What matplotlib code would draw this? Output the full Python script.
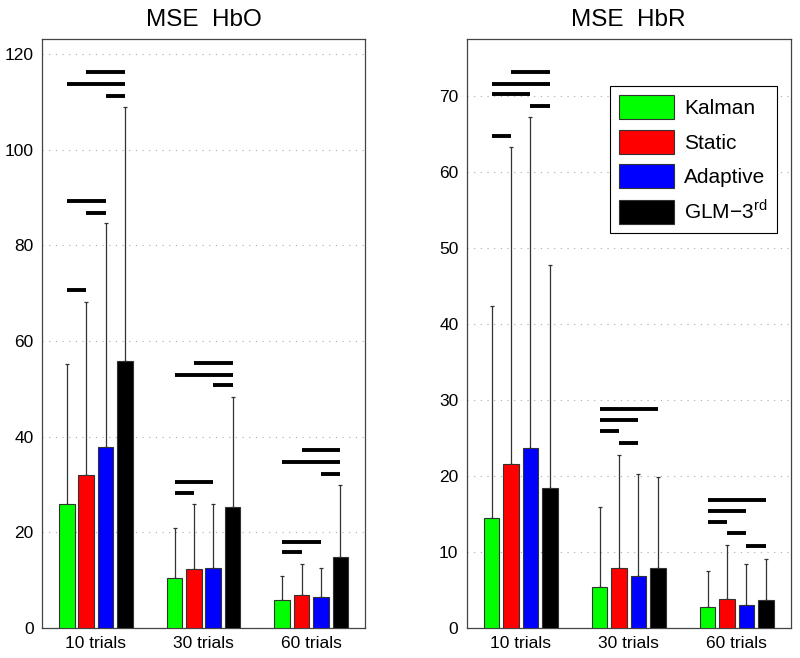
import numpy as np
import matplotlib
matplotlib.use("Agg")
import matplotlib.pyplot as plt
from matplotlib.patches import Patch

plt.rcParams['font.family'] = ['Liberation Sans', 'DejaVu Sans']
plt.rcParams['mathtext.fontset'] = 'custom'
plt.rcParams['mathtext.rm'] = 'Liberation Sans'

# Données
groups = ["10 trials", "30 trials", "60 trials"]
methods = ["Kalman", "Static", "Adaptive", "GLM$-$3$^{\\rm rd}$"]
colors = ["#00ff00", "#ff0000", "#0000ff", "#000000"]

# MSE HbO : moyennes et écarts (vers le haut), une liste par méthode
hbo_mean = [[25.9, 10.5, 5.7], [32.0, 12.2, 6.8], [37.8, 12.6, 6.5], [55.9, 25.2, 14.7]]
hbo_err = [[29.2, 10.4, 5.1], [36.1, 13.7, 6.5], [46.8, 13.3, 6.1], [53.1, 23.0, 15.2]]

# MSE HbR
hbr_mean = [[14.5, 5.4, 2.7], [21.6, 7.8, 3.8], [23.6, 6.8, 3.0], [18.4, 7.8, 3.7]]
hbr_err = [[27.8, 10.5, 4.8], [41.6, 14.9, 7.1], [43.6, 13.4, 5.4], [29.3, 12.0, 5.3]]

# Lignes de significativité : (groupe, méthode i, méthode j, hauteur)
hbo_sig = [(0, 0, 1, 70.6), (0, 0, 2, 89.3), (0, 1, 2, 86.8), (0, 0, 3, 113.8), (0, 1, 3, 116.3), (0, 2, 3, 111.2),
           (1, 0, 1, 28.1), (1, 0, 2, 30.5), (1, 0, 3, 52.9), (1, 1, 3, 55.4), (1, 2, 3, 50.8),
           (2, 0, 1, 15.8), (2, 0, 2, 18.0), (2, 0, 3, 34.6), (2, 1, 3, 37.1), (2, 2, 3, 32.1)]
hbr_sig = [(0, 0, 1, 64.7), (0, 0, 2, 70.2), (0, 0, 3, 71.6), (0, 1, 3, 73.1), (0, 2, 3, 68.6),
           (1, 0, 1, 25.9), (1, 0, 2, 27.3), (1, 0, 3, 28.8), (1, 1, 2, 24.3),
           (2, 0, 1, 13.9), (2, 0, 2, 15.4), (2, 0, 3, 16.8), (2, 1, 2, 12.5), (2, 2, 3, 10.7)]

offsets = [-0.27, -0.09, 0.09, 0.27]
width = 0.145
x = np.arange(1, len(groups) + 1)

fig = plt.figure(figsize=(8, 6.58), dpi=100)
ax1 = fig.add_axes([0.0525, 0.046, 0.404, 0.894])
ax2 = fig.add_axes([0.5834, 0.046, 0.405, 0.894])


def draw(ax, means, errs, sig, title, ymax, yticks):
    for k in range(len(methods)):
        xs = x + offsets[k]
        ax.errorbar(xs, means[k], yerr=[np.zeros(len(groups)), errs[k]], fmt='none',
                    ecolor='#333333', elinewidth=0.9, capsize=1.5, capthick=0.9, zorder=2)
        ax.bar(xs, means[k], width, color=colors[k], edgecolor='#333333', linewidth=0.8,
               label=methods[k], zorder=3)
    for g, i, j, h in sig:
        ax.plot([x[g] + offsets[i], x[g] + offsets[j]], [h, h], color='black',
                linewidth=2.8, solid_capstyle='butt', zorder=4)
    ax.set_xlim(0.5, 3.5)
    ax.set_ylim(0, ymax)
    ax.set_xticks(x)
    ax.set_xticklabels(groups)
    ax.set_yticks(yticks)
    ax.yaxis.grid(True, linestyle=(0, (1, 5)), color='#aaaaaa', linewidth=0.8)
    ax.set_axisbelow(True)
    ax.tick_params(direction='in', length=0, labelsize=12.5, pad=6)
    for s in ax.spines.values():
        s.set_color('#444444')
        s.set_linewidth(0.9)
    ax.set_title(title, fontsize=17.5, pad=10)


draw(ax1, hbo_mean, hbo_err, hbo_sig, "MSE  HbO", 123.1, np.arange(0, 121, 20))
draw(ax2, hbr_mean, hbr_err, hbr_sig, "MSE  HbR", 77.4, np.arange(0, 71, 10))

handles = [Patch(facecolor=c, edgecolor='#333333', linewidth=0.8) for c in colors]
leg = ax2.legend(handles, methods, loc='upper right', bbox_to_anchor=(0.957, 0.921),
                 borderaxespad=0, fontsize=15, handlelength=2.6, handleheight=1.4,
                 labelspacing=0.5, handletextpad=0.5, borderpad=0.45,
                 fancybox=False, framealpha=1, edgecolor='black')
leg.get_frame().set_linewidth(0.8)

fig.savefig("out.png", dpi=100)
